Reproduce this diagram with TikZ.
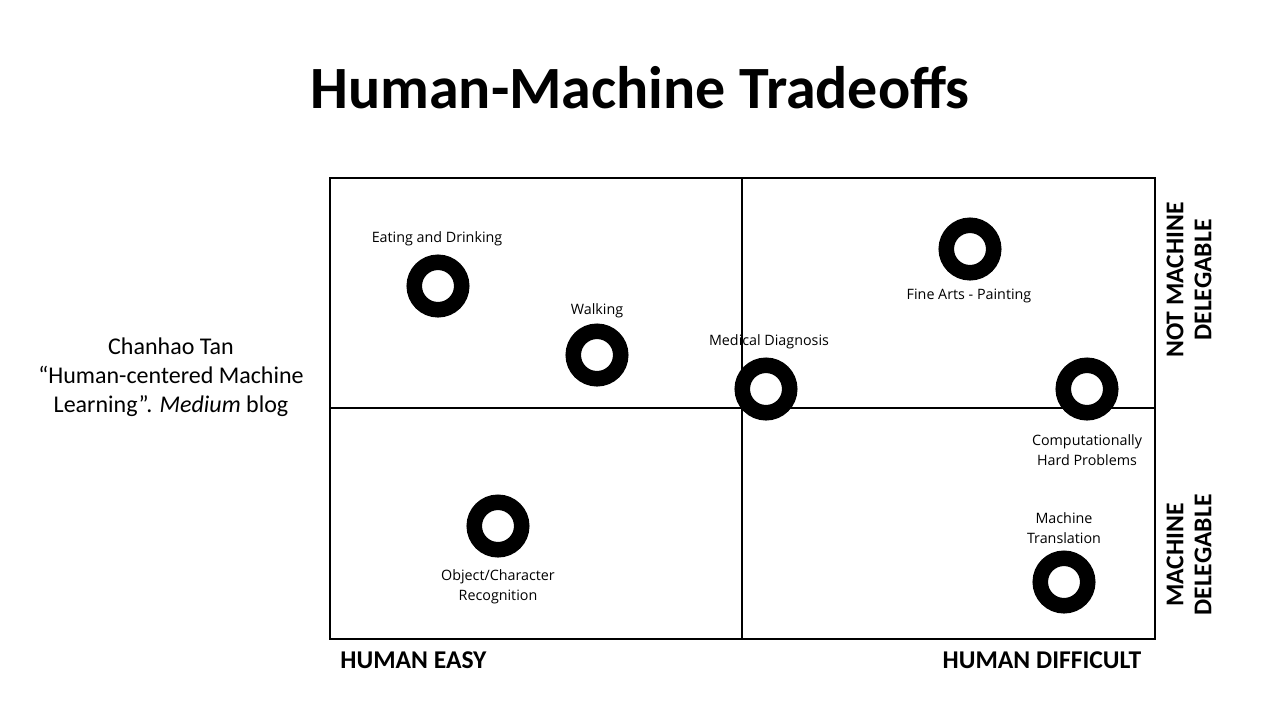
\documentclass[tikz,border=0pt]{standalone}
\usepackage{fontspec}
\setmainfont{Carlito}
\newfontfamily\labfont{Open Sans}
\begin{document}
\begin{tikzpicture}[x=0.5pt,y=-0.5pt,
  ring/.style={circle,draw=black,line width=7.75pt,minimum size=23.75pt,inner sep=0pt},
  itemlabel/.style={font=\labfont\fontsize{7.15}{9.8}\selectfont,align=center,inner sep=0pt},
  axislabel/.style={font=\bfseries\fontsize{12.8}{14}\selectfont,inner sep=0pt},
  sidelabel/.style={font=\bfseries\fontsize{12.8}{14}\selectfont,align=center,inner sep=0pt,rotate=90},
  grid/.style={line width=0.55pt}]
\useasboundingbox (0,0) rectangle (1280,720);
\fill[white] (0,0) rectangle (1280,720);

% title
\node[font=\bfseries\fontsize{30}{36}\selectfont,inner sep=0pt] (title) at (640,88) {Human-Machine Tradeoffs};

% citation
\node[font=\fontsize{12}{14.5}\selectfont,align=center,inner sep=0pt] (cite) at (171,377)
  {Chanhao Tan\\``Human-centered Machine\\Learning''. \textit{Medium} blog};

% quadrant frame
\coordinate (tl) at (330,178);
\coordinate (br) at (1155,639);
\draw[grid] (tl) rectangle (br);
\coordinate (vt) at (742,178);
\coordinate (vb) at (742,639);
\coordinate (hl) at (330,408);
\coordinate (hr) at (1155,408);
\draw[grid] (vt) -- (vb);
\draw[grid] (hl) -- (hr);

% axis labels
\node[axislabel,anchor=west] (easy) at (340,660) {HUMAN EASY};
\node[axislabel] (hard) at (1042,660) {HUMAN DIFFICULT};
\node[sidelabel] (notdel) at (1189,280) {NOT MACHINE\\DELEGABLE};
\node[sidelabel] (del) at (1189,555) {MACHINE\\DELEGABLE};

% activities
\node[ring] (eat) at (438,286) {};
\node[itemlabel] (eatl) at (437,239) {Eating and Drinking};
\node[ring] (walk) at (597,355) {};
\node[itemlabel] (walkl) at (597,311) {Walking};
\node[ring] (art) at (970,249) {};
\node[itemlabel] (artl) at (969,296) {Fine Arts - Painting};
\node[ring] (med) at (766,389) {};
\node[itemlabel] (medl) at (769,342) {Medical Diagnosis};
\node[ring] (comp) at (1087,389) {};
\node[itemlabel] (compl) at (1087,450) {Computationally\\Hard Problems};
\node[ring] (obj) at (498,526) {};
\node[itemlabel] (objl) at (498,587) {Object/Character\\Recognition};
\node[ring] (mt) at (1064,582) {};
\node[itemlabel] (mtl) at (1064,528) {Machine\\Translation};
\end{tikzpicture}
\end{document}
